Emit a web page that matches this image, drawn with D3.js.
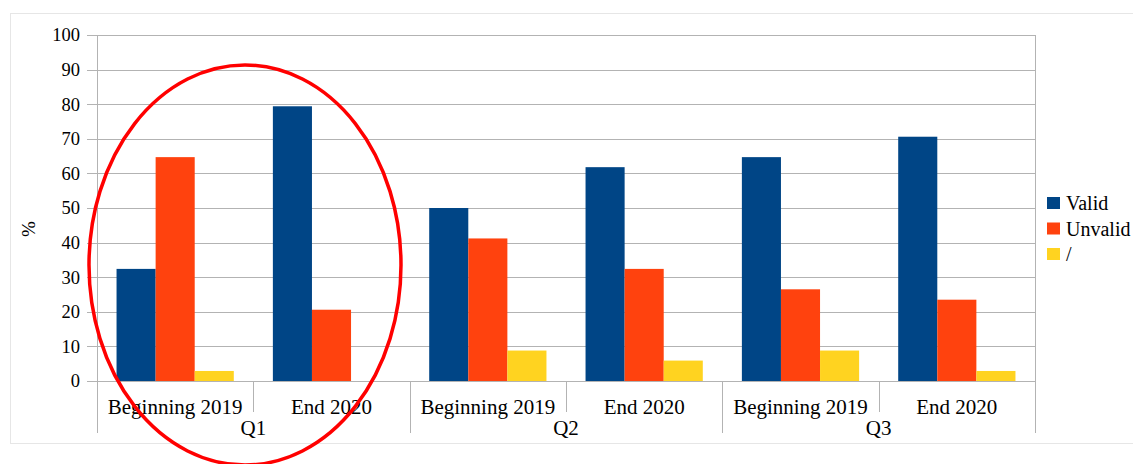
<!DOCTYPE html>
<html>
<head>
<meta charset="utf-8">
<title>Valid / Unvalid</title>
<script src="https://cdn.jsdelivr.net/npm/d3@7"></script>
<style>
  body { margin: 0; background: #fff; overflow: hidden; }
  text { font-family: "Liberation Serif", "DejaVu Serif", serif; fill: #000; }
</style>
</head>
<body>
<svg id="chart"></svg>
<script>
var groups = ["Q1", "Q2", "Q3"];
var periods = ["Beginning 2019", "End 2020"];
var series = ["Valid", "Unvalid", "/"];
var valid   = [32.4, 79.4, 50.0, 61.8, 64.7, 70.6];
var unvalid = [64.7, 20.6, 41.2, 32.4, 26.5, 23.5];
var slash   = [2.9, 0, 8.8, 5.9, 8.8, 2.9];
var yTicks = [0, 10, 20, 30, 40, 50, 60, 70, 80, 90, 100];

var colors = ["#004586", "#ff420e", "#ffd320"];
var width = 1133, height = 464;
var plotL = 97, plotR = 1035, plotT = 35, plotB = 381;

var svg = d3.select("#chart").attr("width", width).attr("height", height);

// chart frame
svg.append("rect")
    .attr("x", 10.5).attr("y", 13.5)
    .attr("width", width).attr("height", 430)
    .attr("fill", "none").attr("stroke", "#e6e6e6");

var cats = [];
groups.forEach(function(g) {
  periods.forEach(function(p) { cats.push(g + "|" + p); });
});

var x0 = d3.scaleBand().domain(cats).range([plotL, plotR]);
var x1 = d3.scaleBand().domain(series).range([0, x0.bandwidth()]).paddingOuter(0.5);
var xg = d3.scaleBand().domain(groups).range([plotL, plotR]);
var y = d3.scaleLinear().domain([0, 100]).range([plotB, plotT]);

// grid
svg.append("g").selectAll("line")
    .data(yTicks).enter().append("line")
    .attr("x1", plotL - 10).attr("x2", plotR)
    .attr("y1", function(d) { return Math.round(y(d)) + 0.5; })
    .attr("y2", function(d) { return Math.round(y(d)) + 0.5; })
    .attr("stroke", "#b3b3b3").attr("stroke-width", 1);

svg.append("g").selectAll("text")
    .data(yTicks).enter().append("text")
    .attr("x", 80).attr("y", function(d) { return y(d); })
    .attr("dy", "0.35em")
    .attr("text-anchor", "end")
    .style("font-size", "18.5px")
    .text(function(d) { return d; });

// bars
var values = [valid, unvalid, slash];
var rows = [];
cats.forEach(function(c, i) {
  series.forEach(function(s, j) {
    rows.push({cat: c, s: s, v: values[j][i], color: colors[j]});
  });
});

svg.append("g").selectAll("rect")
    .data(rows).enter().append("rect")
    .attr("x", function(d) { return x0(d.cat) + x1(d.s); })
    .attr("width", x1.bandwidth())
    .attr("y", function(d) { return y(d.v); })
    .attr("height", function(d) { return y(0) - y(d.v); })
    .attr("fill", function(d) { return d.color; });

// axes lines
svg.append("line")
    .attr("x1", plotL + 0.5).attr("x2", plotL + 0.5)
    .attr("y1", plotT).attr("y2", 433)
    .attr("stroke", "#b3b3b3");
svg.append("line")
    .attr("x1", plotR + 0.5).attr("x2", plotR + 0.5)
    .attr("y1", plotT).attr("y2", 433)
    .attr("stroke", "#b3b3b3");

// category separators
cats.forEach(function(c, i) {
  if (i == 0) return;
  var xx = Math.round(x0(c)) + 0.5;
  svg.append("line")
      .attr("x1", xx).attr("x2", xx)
      .attr("y1", plotB).attr("y2", i % 2 == 0 ? 433 : 412)
      .attr("stroke", "#b3b3b3");
});

svg.append("g").selectAll("text")
    .data(cats).enter().append("text")
    .attr("x", function(d) { return x0(d) + x0.bandwidth() / 2; })
    .attr("y", 414)
    .attr("text-anchor", "middle")
    .style("font-size", "21px")
    .text(function(d) { return d.split("|")[1]; });

svg.append("g").selectAll("text")
    .data(groups).enter().append("text")
    .attr("x", function(d) { return xg(d) + xg.bandwidth() / 2; })
    .attr("y", 435)
    .attr("text-anchor", "middle")
    .style("font-size", "21px")
    .text(function(d) { return d; });

// y title
svg.append("text")
    .attr("transform", "translate(35,229) rotate(-90)")
    .attr("text-anchor", "middle")
    .style("font-size", "19px")
    .text("%");

// legend
var leg = svg.append("g").selectAll("g")
    .data(series).enter().append("g")
    .attr("transform", function(d, i) { return "translate(1047," + (203 + i * 25.5) + ")"; });
leg.append("rect")
    .attr("x", 0).attr("y", -6)
    .attr("width", 13).attr("height", 12)
    .attr("fill", function(d, i) { return colors[i]; });
leg.append("text")
    .attr("x", 19).attr("y", 0).attr("dy", "0.35em")
    .style("font-size", "20px")
    .text(function(d) { return d; });

// red circle annotation around Q1
svg.append("ellipse")
    .attr("cx", 245).attr("cy", 265)
    .attr("rx", 156).attr("ry", 200)
    .attr("fill", "none")
    .attr("stroke", "#ff0000")
    .attr("stroke-width", 3.5);
</script>
</body>
</html>
